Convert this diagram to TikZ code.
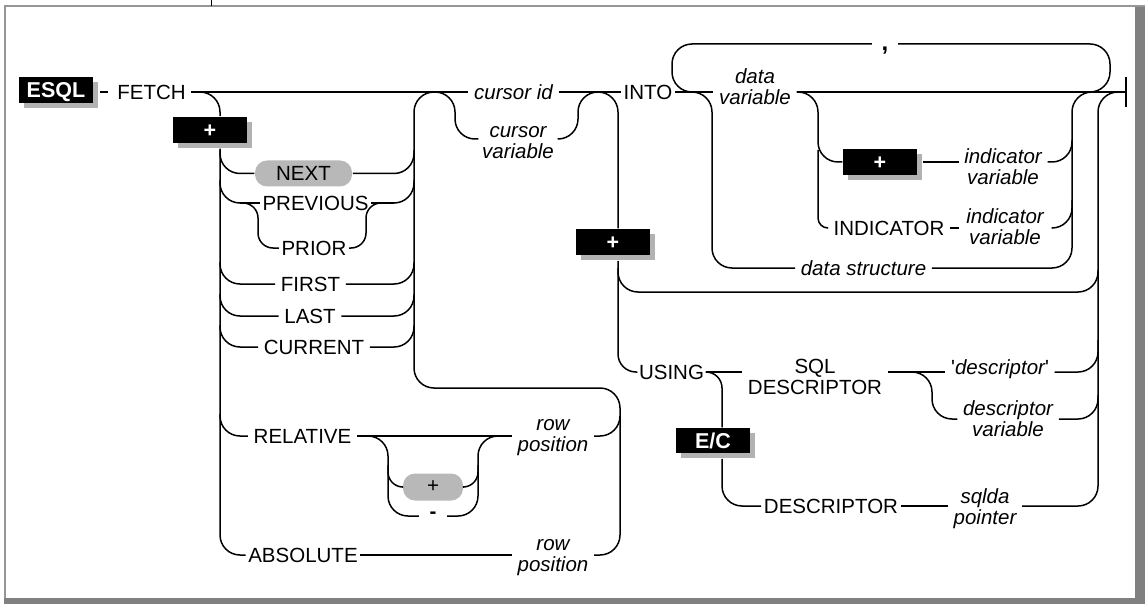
\documentclass[tikz,border=0pt]{standalone}
\usepackage{fontspec}
\setmainfont{Liberation Sans}
\usepackage{tikz}
\usetikzlibrary{shadows}
\definecolor{FrameGray}{RGB}{128,128,128}
\definecolor{LineGray}{RGB}{150,150,150}
\definecolor{ShadeGray}{RGB}{178,178,178}
\definecolor{PillGray}{RGB}{184,184,184}
\newcommand{\railfont}{\fontsize{20.5}{21}\selectfont}

\begin{document}
\begin{tikzpicture}[
    x=1pt,y=-1pt,line width=1.5pt,
    rail/.style={rounded corners=20pt},
    kw/.style={font=\railfont,inner xsep=5pt,inner ysep=0pt,
      text height=14.7pt,text depth=0pt},
    kwml/.style={font=\railfont,align=center,inner xsep=5pt,inner ysep=0pt},
    var/.style={font=\railfont\itshape,align=center,inner xsep=5pt,inner ysep=0pt},
    flag/.style={
      fill=black,text=white,font=\fontsize{21.5}{22}\selectfont\bfseries,inner sep=0pt,
      minimum width=74pt,minimum height=26pt,text height=15.2pt,text depth=0pt,
      drop shadow={shadow xshift=5pt,shadow yshift=-5pt,fill=ShadeGray,opacity=1}
    },
    pill/.style={fill=PillGray,rounded corners=12pt,font=\railfont,inner sep=0pt}
  ]
  \useasboundingbox (0,0) rectangle (1145,604);
  \fill[white] (0,0) rectangle (1145,604);
  \draw[LineGray,line width=2pt] (4,6) -- (1145,6);
  \draw[LineGray,line width=2pt] (5,6) -- (5,600);
  \fill[FrameGray] (1135,7) rectangle (1145,604);
  \fill[FrameGray] (4,598) rectangle (1145,604);
  \draw[line width=0.8pt] (211,0) -- (211,6);

  \node[flag] (esql) at (56,90) {ESQL};
  \node[kw] (fetch) at (151.5,92) {FETCH};
  \node[flag] (plus1) at (210,130) {+};
  \node[pill,minimum width=97pt,minimum height=26pt] (next) at (303.5,173.5) {NEXT};
  \node[kw,inner xsep=2pt] (previous) at (315.5,203) {PREVIOUS};
  \node[kw,inner xsep=2pt] (prior) at (314,248) {PRIOR};
  \node[kw] (first) at (310.5,284) {FIRST};
  \node[kw] (last) at (310,316) {LAST};
  \node[kw] (current) at (314,347) {CURRENT};
  \node[kw] (relative) at (302.5,436) {RELATIVE};
  \node[kw,inner xsep=2pt] (absolute) at (303,555) {ABSOLUTE};
  \node[pill,minimum width=60pt,minimum height=27pt] (sign) at (433,487) {+};
  \node[font=\railfont\bfseries,anchor=base,inner xsep=10pt] (minus) at (433,518) {-};
  \node[var] (rowrel) at (553,438) {row\\position};
  \node[var] (rowabs) at (553,558) {row\\position};
  \node[var] (cid) at (513.5,92) {cursor id};
  \node[var,inner xsep=3pt] (cvar) at (518,143) {cursor\\variable};
  \node[kw,inner xsep=2pt] (into) at (648,92) {INTO};
  \node[var] (dvar) at (755,87) {data\\variable};
  \node[kw,font=\fontsize{24}{24}\selectfont\bfseries,anchor=base,inner xsep=9pt] (comma) at (885,51) {,};
  \node[flag] (plus3) at (880,162) {+};
  \node[var] (ivara) at (1003,167) {indicator\\variable};
  \node[kw] (indicator) at (889,228) {INDICATOR};
  \node[var,inner xsep=7pt] (ivarb) at (1005,227) {indicator\\variable};
  \node[var] (dstruct) at (863.5,268) {data structure};
  \node[flag] (plus2) at (613,242) {+};
  \node[kw,inner xsep=1pt] (using) at (671.5,372) {USING};
  \node[kwml] (sqldesc) at (815,377) {SQL\\DESCRIPTOR};
  \node[var] (desc) at (1000,369) {{\upshape\textquotesingle}descriptor{\upshape\textquotesingle}};
  \node[var] (dvarb) at (1008,419) {descriptor\\variable};
  \node[flag,minimum height=25pt] (ec) at (713,440.5) {E/C};
  \node[kw,inner xsep=2pt] (descriptor) at (831,506) {DESCRIPTOR};
  \node[var] (sqlda) at (985,509) {sqlda\\pointer};
  \coordinate (stop) at (1126,92);

  \draw ([xshift=6pt]esql.east |- fetch.west) -- ([xshift=-4pt]fetch.west);
  \draw (fetch.east) -- (cid.west);
  \draw (cid.east) -- (into.west);
  \draw (into.east) -- (into.east -| dvar.west);
  \draw (into.east -| dvar.east) -- (stop);
  \draw ([yshift=15pt]stop) -- ([yshift=-15pt]stop);

  \draw[rail] (fetch.east) -| ([xshift=10pt]plus1.north);
  \draw[rail] ([xshift=10pt,yshift=-5pt]plus1.south) |- (absolute.west);
  \draw[rail] (220,150) |- (next.west);
  \draw[rail] (next.east) -| (414,150);
  \draw[rail] (220,180) |- (previous.west);
  \draw[rail] (previous.east) -| (414,180);
  \draw[rail,rounded corners=15pt] (243,203) -| (258,248) -- (prior.west);
  \draw[rail,rounded corners=15pt] (prior.east) -| (366,203) -- (384,203);
  \draw[rail] (220,262) |- (first.west);
  \draw[rail] (first.east) -| (414,262);
  \draw[rail] (220,294) |- (last.west);
  \draw[rail] (last.east) -| (414,294);
  \draw[rail] (220,325) |- (current.west);
  \draw[rail] (current.east) -| (414,325);
  \draw[rail] (220,414) |- (relative.west);

  \draw (relative.east) -- (relative.east -| rowrel.west);
  \draw[rail] (relative.east) -| (388,516) -- (minus.west |- 0,516);
  \draw[rail] (minus.east |- 0,516) -| (478,436) -- (rowrel.west |- relative.east);
  \draw[rail,rounded corners=15pt] (388,465) |- (sign.west);
  \draw[rail,rounded corners=15pt] (sign.east) -| (478,465);
  \draw (absolute.east) -- (absolute.east -| rowabs.west);
  \draw[rail] (rowabs.east |- absolute.east) -| (620,388) -| (414,92) -- (440,92);
  \draw[rail] (rowrel.east |- relative.east) -| (620,416);

  \draw[rail] (433,92) -| (455,139) -- (cvar.west |- 0,139);
  \draw[rail] (cvar.east |- 0,139) -| (578,92) -| ([xshift=5pt]plus2.north);
  \draw[rail,rounded corners=18pt] ([xshift=5pt,yshift=-5pt]plus2.south) |- (using.west);
  \draw[rail] (618,268) |- (1098,292) -- (1098,270);

  \draw[rail] (700,92) -| (672,44) -- (comma.west |- 0,44);
  \draw[rail] (comma.east |- 0,44) -| (1110,92) -- (1088,92);
  \draw[rail] (692,92) -| (712,268) -- (dstruct.west);
  \draw[rail] (dstruct.east) -| (1072,92) -- (1094,92);
  \draw[rail] (dvar.east |- into.east) -| (818,162) -- (plus3.west);
  \draw ([xshift=5pt]plus3.east) -- (plus3.east -| ivara.west);
  \draw[rail] (plus3.east -| ivara.east) -| (1072,140);
  \draw[rail,rounded corners=10pt] (818,150) |- (indicator.west);
  \draw (indicator.east) -- (ivarb.west |- indicator.east);
  \draw[rail] (ivarb.east |- indicator.east) -| (1072,200);

  \draw (using.east) -- (using.east -| sqldesc.west);
  \draw (using.east -| sqldesc.east) -- (using.east -| desc.west);
  \draw[rail] (using.east -| desc.east) -| (1098,340);
  \draw[rail] (912,372) -| (932,419) -- (dvarb.west);
  \draw[rail] (dvarb.east) -| (1098,395);
  \draw[rail,rounded corners=16pt] (using.east) -| ([xshift=9pt]ec.north);
  \draw[rail] ([xshift=9pt,yshift=-5pt]ec.south) |- (descriptor.west);
  \draw (descriptor.east) -- (descriptor.east -| sqlda.west);
  \draw[rail] (descriptor.east -| sqlda.east) -| (1098,92) -- (stop);
\end{tikzpicture}
\end{document}
